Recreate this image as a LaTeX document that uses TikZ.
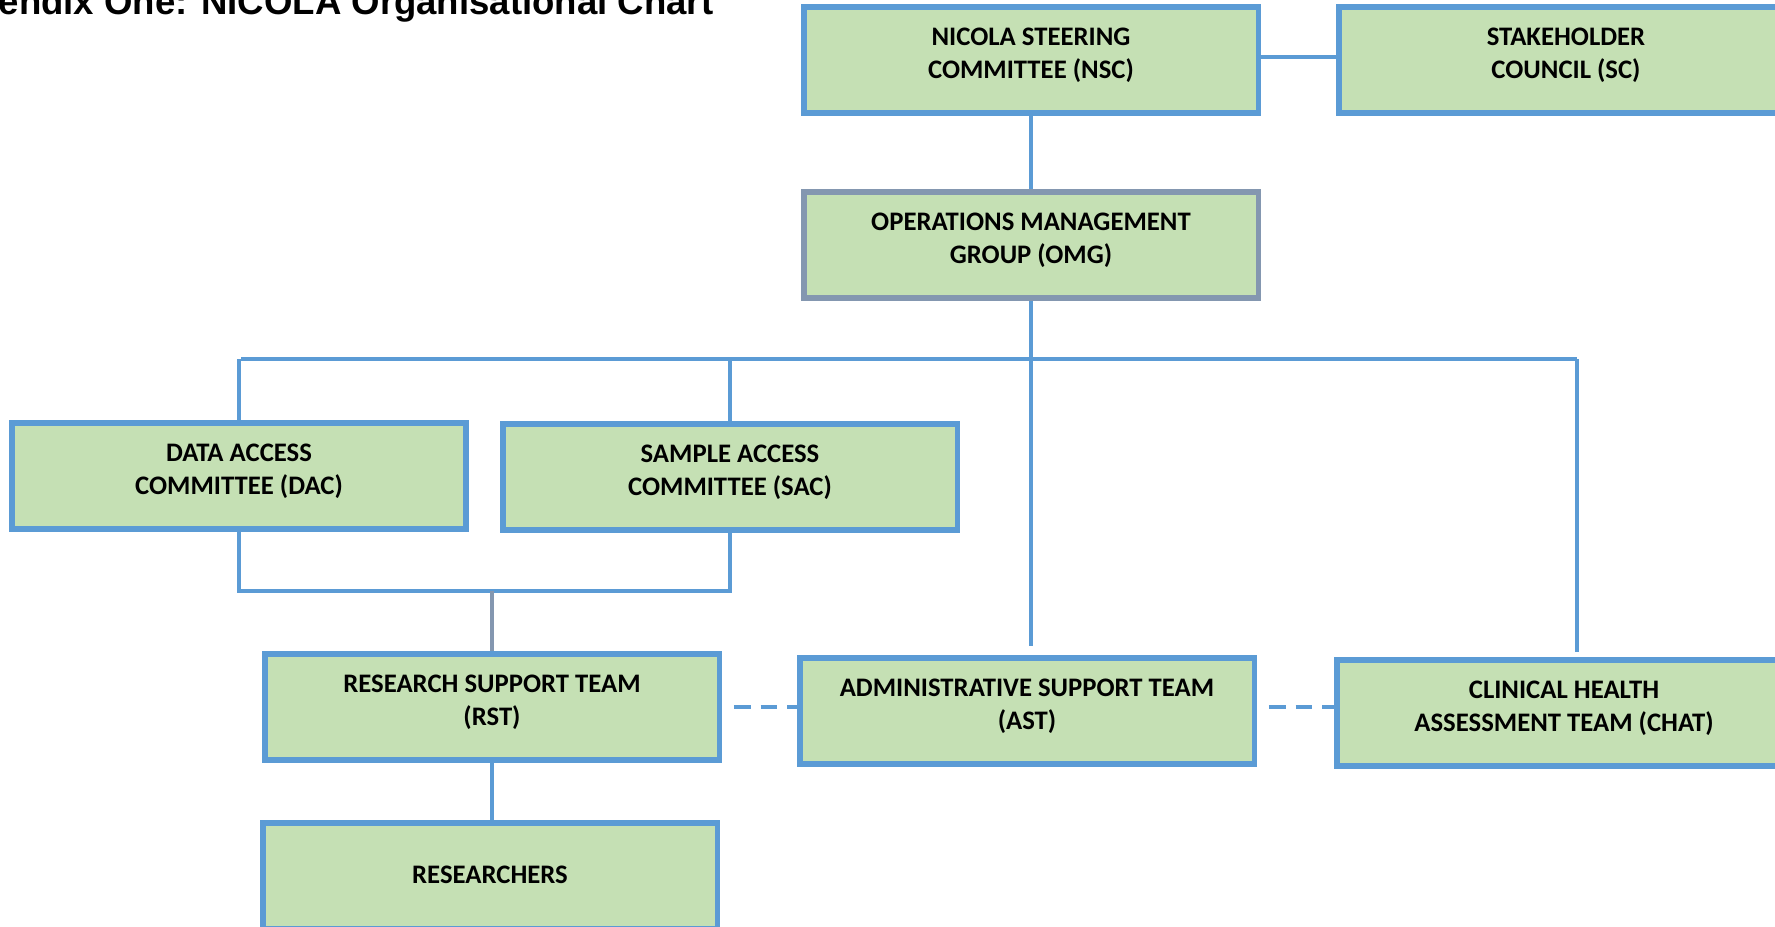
\documentclass[tikz,border=0pt]{standalone}
\usepackage{fontspec}
\setmainfont{Carlito}
\newfontfamily\titlefont{Liberation Sans}
\usepackage{xcolor}
\usepackage{tikz}
\usetikzlibrary{positioning}

\definecolor{boxfill}{HTML}{C5E0B4}
\definecolor{boxline}{HTML}{5B9BD5}
\definecolor{greyline}{HTML}{8497B0}

\begin{document}
\begin{tikzpicture}[
    x=0.01cm, y=-0.01cm,
    unit/.style={
        rectangle, draw=boxline, fill=boxfill, line width=1.5pt,
        minimum width=4.54cm, minimum height=1.06cm, inner sep=0pt,
        text centered, align=center,
        font=\fontsize{7.6}{9.3}\selectfont\bfseries,
        text depth=4pt
    },
    link/.style={draw=boxline, line width=1.1pt},
    dashlink/.style={draw=boxline, line width=1.2pt, dash pattern=on 4.8pt off 2.8pt},
    title/.style={font=\titlefont\fontsize{10.4}{12}\selectfont\bfseries, inner sep=0pt},
]

\useasboundingbox (0,0) rectangle (1775,927);
\clip (0,0) rectangle (1775,927);

% Titolo
\node[title, anchor=base west] (heading) at (-2,14)
    {endix One: NICOLA Organisational Chart};

% Livello alto
\node[unit] (nsc) at (1031,60)  {NICOLA STEERING\\COMMITTEE (NSC)};
\node[unit] (sc)  at (1566,60)  {STAKEHOLDER\\COUNCIL (SC)};
\node[unit, draw=greyline] (omg) at (1031,245) {OPERATIONS MANAGEMENT\\GROUP (OMG)};

% Comitati
\node[unit] (dac) at (239,476) {DATA ACCESS\\COMMITTEE (DAC)};
\node[unit] (sac) at (730,477) {SAMPLE ACCESS\\COMMITTEE (SAC)};

% Team
\node[unit] (rst)  at (492,707)  {RESEARCH SUPPORT TEAM\\(RST)};
\node[unit] (ast)  at (1027,711) {ADMINISTRATIVE SUPPORT TEAM\\(AST)};
\node[unit] (chat) at (1564,713) {CLINICAL HEALTH\\ASSESSMENT TEAM (CHAT)};
\node[unit, text depth=1pt] (res) at (490,876) {RESEARCHERS};

% Punti di snodo
\coordinate (busL)  at (241,359);
\coordinate (busR)  at (1577,359);
\coordinate (join)  at (492,591);

% Collegamenti
\draw[link] ([yshift=0.03cm]nsc.east) -- ([yshift=0.03cm]sc.west);
\draw[link] (nsc.south) -- (omg.north);
\draw[link] (busL) -- (busR);
\draw[link] (omg.south) -- ([yshift=0.09cm]omg.south |- ast.north);
\draw[link] (dac.north) -- (dac.north |- busL);
\draw[link] (sac.north) -- (sac.north |- busL);
\draw[link] (busR) -- ([yshift=0.05cm]busR |- chat.north);
\draw[link] (dac.south) -- (dac.south |- join) -- (sac.south |- join) -- (sac.south);
\draw[link, draw=greyline] (join) -- (rst.north);
\draw[link] (rst.south) -- (rst.south |- res.north);

% Linee tratteggiate
\draw[dashlink, shorten <=0.12cm] (rst.east) -- (rst.east -| ast.west);
\draw[dashlink, shorten <=0.12cm] (ast.east |- rst.east) -- (chat.west |- rst.east);

\end{tikzpicture}
\end{document}
